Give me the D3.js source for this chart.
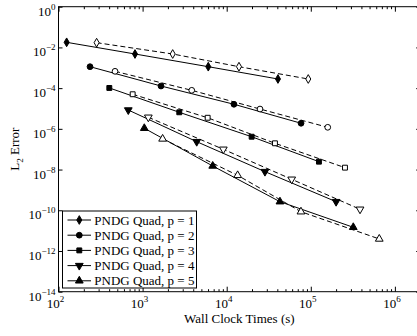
<!DOCTYPE html>
<html>
<head>
<meta charset="utf-8">
<script src="https://cdn.jsdelivr.net/npm/d3@7"></script>
<style>
body { margin: 0; background: #fff; }
text { font-family: "Liberation Serif", "Times New Roman", serif; fill: #000; }
</style>
</head>
<body>
<svg id="chart" width="417" height="336"></svg>
<script>
// legend names, one per polynomial order
var seriesNames = ["PNDG Quad, p = 1", "PNDG Quad, p = 2", "PNDG Quad, p = 3", "PNDG Quad, p = 4", "PNDG Quad, p = 5"];

// solid lines (filled markers)
var solidTimes = [
  [125, 812, 6040, 40700],
  [237, 1655, 12200, 76600],
  [402, 2730, 19800, 125000],
  [676, 4400, 28500, 200000],
  [1048, 6820, 43000, 320000]
];
var solidErrors = [
  [1.78e-2, 4.75e-3, 1.13e-3, 2.81e-4],
  [1.13e-3, 1.27e-4, 1.61e-5, 1.88e-6],
  [1.02e-4, 6.5e-6, 4.1e-7, 2.44e-8],
  [8.4e-6, 2.34e-7, 7.9e-9, 2.64e-10],
  [1.07e-6, 1.5e-8, 2.64e-10, 1.46e-11]
];

// dashed lines (open markers)
var dashedTimes = [
  [284, 2280, 14000, 93300],
  [470, 3840, 24900, 159000],
  [762, 5940, 37500, 255000],
  [1170, 9120, 59300, 385000],
  [1730, 13500, 76400, 652000]
];
var dashedErrors = [
  [1.71e-2, 4.75e-3, 1.13e-3, 2.81e-4],
  [6.7e-4, 7.8e-5, 9.4e-6, 1.19e-6],
  [5.0e-5, 3.5e-6, 1.95e-7, 1.24e-8],
  [3.7e-6, 9.9e-8, 3.33e-9, 1.12e-10],
  [3.2e-7, 5.2e-9, 8.5e-11, 3.9e-12]
];

var xTickExp = [2, 3, 4, 5, 6];
var yTickExp = [0, -2, -4, -6, -8, -10, -12, -14];

var svg = d3.select("#chart");

// plot box (note: "top" is reserved on window, so use pl/pr/pt/pb)
var pl = 58.5, pr = 420.2, pt = 6.7, pb = 291.7;

var x = d3.scaleLog().domain([1e2, 2e6]).range([pl, pr]);
var y = d3.scaleLog().domain([1e-14, 1]).range([pb, pt]);

// marker shapes per series
var shapes = [d3.symbolDiamond, d3.symbolCircle, d3.symbolSquare, d3.symbolTriangle, d3.symbolTriangle];
var sizes = [22, 26, 24, 26, 26];
var rotations = [0, 0, 0, 180, 0];

function marker(i) {
  return d3.symbol().type(shapes[i]).size(sizes[i])();
}

// minor x ticks
var xMinor = [];
for (var d = 2; d <= 5; d++) {
  for (var k = 2; k <= 9; k++) xMinor.push(k * Math.pow(10, d));
}

// frame
svg.append("rect")
  .attr("x", pl).attr("y", pt)
  .attr("width", pr - pl).attr("height", pb - pt)
  .style("fill", "none").style("stroke", "#000").style("stroke-width", 1);

function styleAxis(g) {
  g.select(".domain").remove();
  g.selectAll("line").style("stroke", "#000").style("stroke-width", 1);
}

var xMajor = xTickExp.map(function(e) { return Math.pow(10, e); });
var yMajor = yTickExp.map(function(e) { return Math.pow(10, e); });

svg.append("g").attr("transform", "translate(0," + pb + ")")
  .call(d3.axisBottom(x).tickValues(xMajor).tickSizeInner(-5).tickSizeOuter(0).tickFormat(""))
  .call(styleAxis);
svg.append("g").attr("transform", "translate(0," + pb + ")")
  .call(d3.axisBottom(x).tickValues(xMinor).tickSizeInner(-2.5).tickSizeOuter(0).tickFormat(""))
  .call(styleAxis);
svg.append("g").attr("transform", "translate(0," + pt + ")")
  .call(d3.axisTop(x).tickValues(xMajor).tickSizeInner(-5).tickSizeOuter(0).tickFormat(""))
  .call(styleAxis);
svg.append("g").attr("transform", "translate(0," + pt + ")")
  .call(d3.axisTop(x).tickValues(xMinor).tickSizeInner(-2.5).tickSizeOuter(0).tickFormat(""))
  .call(styleAxis);
svg.append("g").attr("transform", "translate(" + pl + ",0)")
  .call(d3.axisLeft(y).tickValues(yMajor).tickSizeInner(-4).tickSizeOuter(0).tickFormat(""))
  .call(styleAxis);
svg.append("g").attr("transform", "translate(" + pr + ",0)")
  .call(d3.axisRight(y).tickValues(yMajor).tickSizeInner(-4).tickSizeOuter(0).tickFormat(""))
  .call(styleAxis);

// tick labels with superscripts
var xl = svg.selectAll("xlabels")
  .data(xTickExp)
  .enter()
  .append("text")
    .attr("x", function(e) { return x(Math.pow(10, e)) - 3; })
    .attr("y", pb + 16.5)
    .attr("text-anchor", "middle")
    .style("font-size", "13px");
xl.append("tspan").text("10");
xl.append("tspan").attr("dy", -6).style("font-size", "9px").text(function(e) { return e; });

var yl = svg.selectAll("ylabels")
  .data(yTickExp)
  .enter()
  .append("text")
    .attr("x", pl - 3)
    .attr("y", function(e) { return y(Math.pow(10, e)) + 9; })
    .attr("text-anchor", "end")
    .style("font-size", "13px");
yl.append("tspan").text("10");
yl.append("tspan").attr("dy", -6).style("font-size", "9px").text(function(e) { return e === 0 ? "0" : "\u2212" + (-e); });

// axis titles
svg.append("text")
  .attr("x", (pl + pr) / 2)
  .attr("y", 323)
  .attr("text-anchor", "middle")
  .style("font-size", "13px")
  .text("Wall Clock Times (s)");

var yt = svg.append("text")
  .attr("transform", "translate(19," + ((pt + pb) / 2) + ") rotate(-90)")
  .attr("text-anchor", "middle")
  .style("font-size", "13px");
yt.append("tspan").text("L");
yt.append("tspan").attr("dy", 4).style("font-size", "9px").text("2");
yt.append("tspan").attr("dy", -4).text(" Error");

var line = d3.line()
  .x(function(d) { return x(d[0]); })
  .y(function(d) { return y(d[1]); });

seriesNames.forEach(function(name, i) {
  var solid = d3.zip(solidTimes[i], solidErrors[i]);
  var dashed = d3.zip(dashedTimes[i], dashedErrors[i]);

  svg.append("path").datum(dashed)
    .attr("d", line)
    .style("fill", "none").style("stroke", "#000").style("stroke-width", 1)
    .style("stroke-dasharray", "5,3");
  svg.append("path").datum(solid)
    .attr("d", line)
    .style("fill", "none").style("stroke", "#000").style("stroke-width", 1);

  svg.selectAll("open" + i)
    .data(dashed)
    .enter()
    .append("path")
      .attr("d", marker(i))
      .attr("transform", function(d) { return "translate(" + x(d[0]) + "," + y(d[1]) + ") rotate(" + rotations[i] + ")"; })
      .style("fill", "#fff").style("stroke", "#000").style("stroke-width", 1);
  svg.selectAll("filled" + i)
    .data(solid)
    .enter()
    .append("path")
      .attr("d", marker(i))
      .attr("transform", function(d) { return "translate(" + x(d[0]) + "," + y(d[1]) + ") rotate(" + rotations[i] + ")"; })
      .style("fill", "#000").style("stroke", "#000").style("stroke-width", 1);
});

// legend
var legend = svg.append("g");
legend.append("rect")
  .attr("x", 62.5).attr("y", 211)
  .attr("width", 134).attr("height", 77)
  .style("fill", "#fff").style("stroke", "#000").style("stroke-width", 1);

seriesNames.forEach(function(name, i) {
  var cy = 220 + i * 15.2;
  legend.append("line")
    .attr("x1", 67.5).attr("x2", 91).attr("y1", cy).attr("y2", cy)
    .style("stroke", "#000").style("stroke-width", 1);
  legend.append("path")
    .attr("d", marker(i))
    .attr("transform", "translate(79.3," + cy + ") rotate(" + rotations[i] + ")")
    .style("fill", "#000").style("stroke", "#000");
  legend.append("text")
    .attr("x", 94.3)
    .attr("y", cy + 4.5)
    .style("font-size", "13px")
    .text(name);
});
</script>
</body>
</html>
